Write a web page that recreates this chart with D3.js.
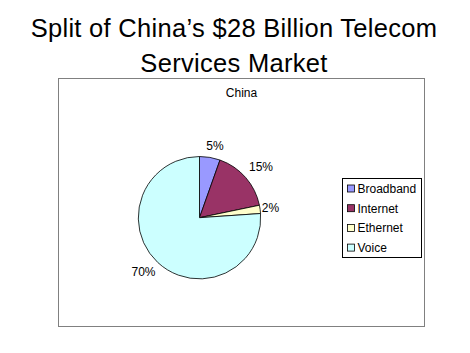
<!DOCTYPE html>
<html><head><meta charset="utf-8">
<script src="https://cdn.jsdelivr.net/npm/d3@7"></script>
<style>body{margin:0;background:#fff}svg{display:block}</style>
</head><body>
<svg id="c" width="470" height="353"></svg>
<script>
const titleLines = ["Split of China\u2019s $28 Billion Telecom", "Services Market"];
const chartTitle = "China";
const categories = ["Broadband", "Internet", "Ethernet", "Voice"];
const values = [5, 15, 2, 70];
const labels = ["5%", "15%", "2%", "70%"];
const colors = ["#9999FF", "#993366", "#FFFFCC", "#CCFFFF"];

const svg = d3.select("#c");
const font = "Arial, 'Liberation Sans', sans-serif";

svg.selectAll("text.title").data(titleLines).join("text")
  .attr("class","title")
  .attr("x", 234).attr("y", (d,i)=> 37 + i*35)
  .attr("text-anchor","middle")
  .attr("font-family", font).attr("font-size", 25.5).attr("letter-spacing", 0.3)
  .attr("fill","#000").text(d=>d);

svg.append("rect").attr("x",58.5).attr("y",78.5).attr("width",366).attr("height",248)
  .attr("fill","#fff").attr("stroke","#808080").attr("stroke-width",1);

svg.append("text").attr("x",241.5).attr("y",96.5).attr("text-anchor","middle")
  .attr("font-family",font).attr("font-size",12).text(chartTitle);

const cx = 199.5, cy = 217.7, r = 61.2;
const pie = d3.pie().sort(null).value(d=>d)(values);
const arc = d3.arc().innerRadius(0).outerRadius(r);
const g = svg.append("g").attr("transform",`translate(${cx},${cy})`);
g.selectAll("path").data(pie).join("path")
  .attr("d", arc).attr("fill",(d,i)=>colors[i])
  .attr("stroke","#000").attr("stroke-width",0.8);

const labelPos = [[215,150],[261,171],[270.5,212],[143.5,276]];
svg.selectAll("text.lab").data(labels).join("text")
  .attr("class","lab")
  .attr("x",(d,i)=>labelPos[i][0]).attr("y",(d,i)=>labelPos[i][1])
  .attr("text-anchor","middle")
  .attr("font-family",font).attr("font-size",12).text(d=>d);

svg.append("rect").attr("x",342.5).attr("y",178.5).attr("width",79).attr("height",79)
  .attr("fill","#fff").attr("stroke","#000").attr("stroke-width",1);
const lg = svg.selectAll("g.leg").data(categories).join("g")
  .attr("class","leg")
  .attr("transform",(d,i)=>`translate(347.5,${188.5 + i*19.7})`);
lg.append("rect").attr("x",0).attr("y",-3.5).attr("width",7).attr("height",7)
  .attr("fill",(d,i)=>colors[i]).attr("stroke","#000").attr("stroke-width",0.8);
lg.append("text").attr("x",10).attr("y",4.5).attr("font-family",font).attr("font-size",12)
  .text(d=>d);
</script>
</body></html>
